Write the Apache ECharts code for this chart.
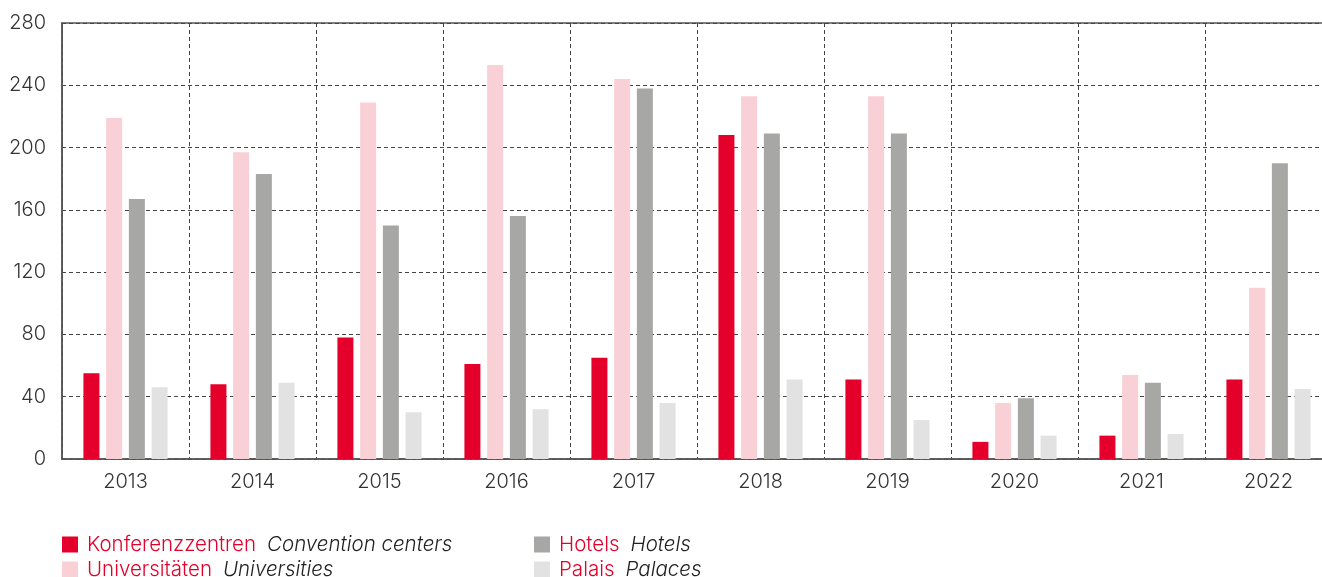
<!DOCTYPE html>
<html lang="de">
<head>
<meta charset="UTF-8">
<title>Veranstaltungen nach Ort</title>
<style>
  html, body { margin: 0; padding: 0; background: #fff; }
  #chart { width: 1322px; height: 577px; }
</style>
</head>
<body>
<div id="chart"></div>
<script src="https://cdn.jsdelivr.net/npm/echarts@6/dist/echarts.min.js"></script>
<script>
// Jahre und Werte
const years = ['2013', '2014', '2015', '2016', '2017', '2018', '2019', '2020', '2021', '2022'];
const konferenzzentren = [55, 48, 78, 61, 65, 208, 51, 11, 15, 51];
const universitaeten = [219, 197, 229, 253, 244, 233, 233, 36, 54, 110];
const hotels = [167, 183, 150, 156, 238, 209, 209, 39, 49, 190];
const palais = [46, 49, 30, 32, 36, 51, 25, 15, 16, 45];

const seriesNames = ['Konferenzzentren', 'Universitäten', 'Hotels', 'Palais'];
const englishNames = ['Convention centers', 'Universities', 'Hotels', 'Palaces'];
const colors = ['#e4002b', '#f9d0d6', '#a7a7a6', '#e2e2e2'];

const yMin = 0, yMax = 280, yStep = 40;

const font = 'Inter, "Open Sans", sans-serif';
const values = [konferenzzentren, universitaeten, hotels, palais];

// Legendenpositionen: zwei Spalten, zwei Zeilen
const legendPos = [[62, 534], [62, 559], [534, 534], [534, 559]];

const chart = echarts.init(document.getElementById('chart'));

const legends = seriesNames.map((name, i) => ({
    left: legendPos[i][0],
    top: legendPos[i][1],
    padding: 0,
    itemWidth: 16,
    itemHeight: 16,
    icon: 'rect',
    selectedMode: false,
    data: [name],
    formatter: n => '{de|' + n + '}{en|' + englishNames[i] + '}',
    textStyle: {
        fontFamily: font,
        padding: [0, 0, 0, 4],
        rich: {
            de: { color: '#e4002b', fontSize: 20.5, fontWeight: 300, fontFamily: font },
            en: { color: '#222', fontSize: 20.5, fontStyle: 'italic', fontWeight: 300, fontFamily: font, padding: [0, 0, 0, 11] }
        }
    }
}));

chart.setOption({
    animation: false,
    color: colors,
    grid: {
        left: 62, top: 23, width: 1270, height: 436,
        outerBoundsMode: 'none',
        show: true, borderColor: '#555', borderWidth: 1.5
    },
    legend: legends,
    xAxis: {
        type: 'category',
        data: years,
        axisLine: { lineStyle: { color: '#555', width: 1.5 } },
        axisTick: { show: false },
        axisLabel: { color: '#333', fontSize: 20, fontFamily: font, fontWeight: 300, margin: 13 },
        splitLine: { show: true, lineStyle: { color: '#444', type: [4, 3], width: 1 } }
    },
    yAxis: {
        type: 'value',
        min: yMin, max: yMax, interval: yStep,
        axisLine: { show: true, lineStyle: { color: '#555', width: 1.5 } },
        axisTick: { show: false },
        axisLabel: { color: '#333', fontSize: 20, fontFamily: font, fontWeight: 300, margin: 16 },
        splitLine: { lineStyle: { color: '#444', type: [4, 3], width: 1 } }
    },
    series: seriesNames.map((name, i) => ({
        name: name,
        type: 'bar',
        data: values[i],
        barWidth: 16,
        barGap: '42%',
        itemStyle: { color: colors[i] }
    }))
});
</script>
</body>
</html>
